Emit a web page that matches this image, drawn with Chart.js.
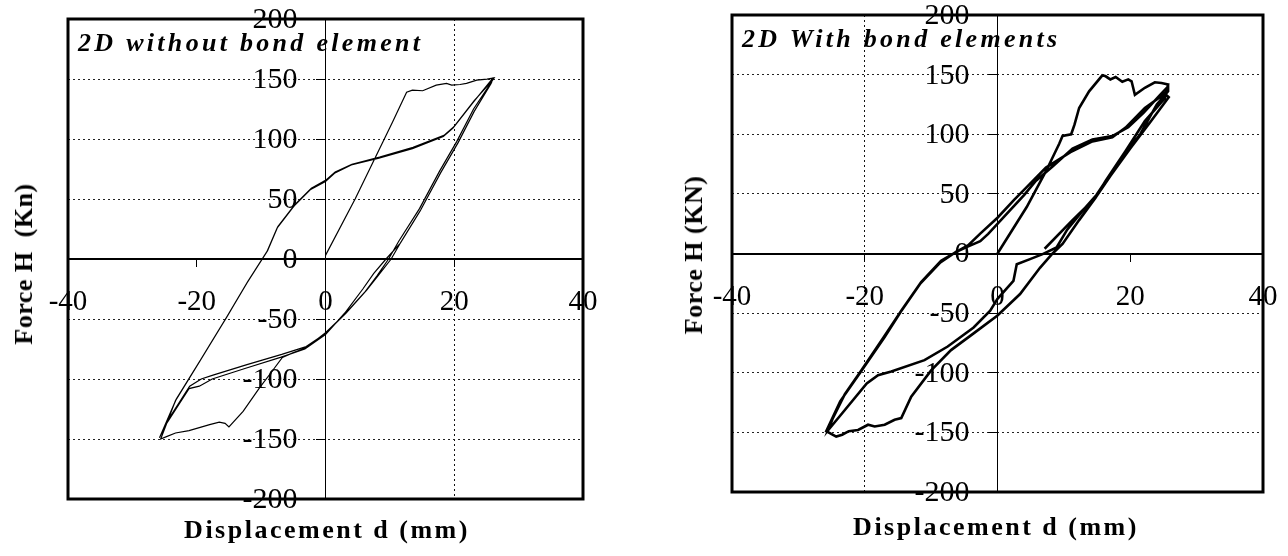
<!DOCTYPE html>
<html>
<head>
<meta charset="utf-8">
<script src="https://cdn.jsdelivr.net/npm/chart.js@4.4.1/dist/chart.umd.min.js"></script>
<style>
  body { margin: 0; background: #fff; }
  #wrap { position: relative; width: 1288px; height: 556px; overflow: hidden; background: #fff; }
  canvas { position: absolute; top: 0; }
  .t { position: absolute; font-family: "Liberation Serif", "Times New Roman", serif; font-weight: bold;
       color: #000; white-space: nowrap; line-height: 1; }
  .ytitle { font-size: 26px; letter-spacing: 0.5px; transform: translate(-50%, -50%) rotate(-90deg); }
  .xtitle { font-size: 26px; letter-spacing: 2.5px; transform: translate(-50%, -50%); }
  .inner { font-size: 26px; font-style: italic; letter-spacing: 3.3px; }
</style>
</head>
<body>
<div id="wrap">
  <canvas id="left" width="644" height="556" style="left:0"></canvas>
  <canvas id="right" width="644" height="556" style="left:644px"></canvas>
  <div class="t inner" style="left:78px; top:30px">2D without bond element</div>
  <div class="t inner" style="left:742px; top:26px">2D With bond elements</div>
  <div class="t ytitle" style="left:24px; top:264px">Force H &nbsp;(Kn)</div>
  <div class="t ytitle" style="left:694px; top:255px">Force H (KN)</div>
  <div class="t xtitle" style="left:327px; top:530px">Displacement d (mm)</div>
  <div class="t xtitle" style="left:996px; top:527px">Displacement d (mm)</div>
</div>
<script>
const dispTicks = [-40, -20, 0, 20, 40];
const forceTicks = [-200, -150, -100, -50, 0, 50, 100, 150, 200];

// 2D without bond element (load history, mm / kN)
const leftDisp = [
  0, 4.6, 10.4, 12.6, 13.5, 15.1, 17.2, 18.8, 19.6, 20.9, 21.9, 23.5, 25.1, 26.2,
  25.6, 23.0, 20.4, 17.7, 14.6, 11.4, 9.8, 8.0, 6.2, 3.0, 0, -3.0, -5.0, -6.7, -8.5, -10.2, -12.8, -15.0, -15.6, -16.5, -18.0, -21.2, -23.3, -24.7, -25.6,
  -23.3, -19.5, -15.4, -12.2, -9.1, -7.5, -4.9, -2.3, 0, 1.4, 4.0, 8.3, 13.5, 18.3, 19.8, 23.0, 25.9,
  25.8, 23.2, 20.6, 17.9, 14.8, 11.7, 10.2, 8.3, 6.4, 3.2, 0, -3.0, -6.8, -12.2, -17.6, -19.3, -21.1, -22.9, -24.7, -25.7,
  -23.2, -19.4, -15.3, -12.1, -9.0, -7.4, -4.8, -2.2, 0, 1.5, 4.1, 8.4, 13.6, 18.4, 19.9, 23.1, 25.8,
  25.7, 23.1, 20.5, 17.8, 14.7, 11.6, 9.4, 7.5, 5.8, 3.0, 0, -3.2, -7.0, -12.4, -17.6, -19.6, -21.2, -23.0, -24.8, -25.8
];
const leftForce = [
  3, 50, 114, 139, 140.7, 140.2, 144.9, 146.3, 144.9, 145.4, 146.3, 149, 149.9, 151,
  146, 125, 98, 73, 42, 15, 0, -14, -27, -46, -61.5, -74, -78, -82, -95, -107, -127, -140, -137, -136, -138, -143, -145, -148, -150,
  -118, -85, -49, -20, 6, 26, 44, 58, 64.5, 71.5, 78.4, 84, 92, 102, 109, 131, 150,
  147, 124, 97, 72, 41, 14, 0, -13, -26, -45, -62, -73, -79.5, -88, -97, -100, -106, -121, -136, -148,
  -117, -84, -48, -19, 7, 27, 45, 59, 65.5, 72.5, 79, 85, 93, 103, 110, 132, 148,
  146, 123, 96, 71, 40, 13, 0, -12, -25, -45, -63, -75, -82, -91, -100, -106, -108, -123, -138, -149
];

// 2D with bond elements
const rightDisp = [
  0, 4.4, 7.3, 9.3, 9.8, 11.1, 11.6, 12.3, 13.8, 15.8, 16.3, 17.0, 17.8, 18.8, 19.7, 20.2, 20.7, 22.2, 23.7, 24.7, 25.7,
  25.2, 22.2, 19.3, 16.3, 14.8, 12.3, 9.8, 8.3, 6.4, 3.4, 0, -3.6, -7.0, -10.0, -13.0, -14.5, -15.5, -17.0, -18.5, -19.5, -21.0, -22.4, -23.4, -24.3, -25.8,
  -23.7, -20.7, -17.0, -14.6, -11.6, -8.6, -6.2, -4.4, -2.6, -1.4, 1.0, 4.0, 5.8, 8.3, 11.3, 14.3, 17.3, 19.7, 22.0, 24.5, 25.7,
  25.7, 24.0, 21.5, 18.5, 14.9, 13.0, 10.5, 8.9, 6.8, 4.9, 2.9, 2.4, 0, -1.1, -3.6, -7.5, -11.0, -16.0, -18.0, -19.7, -23.4, -25.5,
  -24.8, -23.0, -20.5, -17.0, -14.5, -11.5, -8.5, -6.0, -4.4, -2.6, 0, 2.5, 4.4, 7.3, 11.0, 14.3, 17.3, 19.3, 22.2, 25.2,
  25.8, 23.0, 20.0, 17.0, 14.8, 11.3, 7.1
];
const rightForce = [
  0, 39, 69, 92, 98.6, 100, 108, 122, 136, 149.4, 148.6, 146, 148, 144, 146, 144.4, 133, 139, 143.6, 143, 141.7,
  130, 111, 86, 61, 47, 28, 8, 0, -12, -34, -52, -67, -81, -98, -120, -138, -139.4, -143.6, -145, -143.6, -148, -149, -152, -153.5, -149,
  -124, -100, -70, -49, -25, -7.5, 1.5, 6, 10.4, 16.4, 31, 49, 61, 73, 88, 95.5, 98.5, 106, 118, 133, 140,
  136, 125, 100, 79, 49, 37, 20, 5, -0.5, -4.7, -9, -23, -38, -48, -62, -78, -89.4, -99, -102, -109, -134, -148,
  -138, -118, -98, -69, -48, -24, -6, 2, 7, 16.7, 30, 45, 55.6, 72, 85, 94, 97.5, 105.6, 122, 134,
  131, 110, 88, 65, 47, 28, 4
];

const serif = '"Liberation Serif", "Times New Roman", serif';

// thick frame round the plot area
const frame = {
  id: 'frame',
  afterDatasetsDraw(chart) {
    const { ctx, chartArea: a } = chart;
    ctx.save();
    ctx.lineWidth = 3;
    ctx.strokeStyle = '#000';
    ctx.strokeRect(a.left, a.top, a.right - a.left, a.bottom - a.top);
    ctx.restore();
  }
};

// force labels sit ~28px left of the zero axis (a centred y axis would put them flush on it)
const forceLabels = {
  id: 'forceLabels',
  beforeDatasetsDraw(chart) {
    const { ctx, scales: { x, y } } = chart;
    const right = x.getPixelForValue(0) - 28;
    ctx.save();
    ctx.font = '30px ' + serif;
    ctx.fillStyle = '#000';
    ctx.textAlign = 'right';
    ctx.textBaseline = 'middle';
    forceTicks.forEach(v => ctx.fillText(String(v), right, y.getPixelForValue(v) + 1));
    ctx.restore();
  }
};

// axes cross at zero, keep their label overflow from moving the plot area
const noPad = s => { s.paddingLeft = s.paddingRight = s.paddingTop = s.paddingBottom = 0; };

function hysteresis(id, disp, force, lineW, xGridAt, pad) {
  return new Chart(document.getElementById(id), {
    type: 'scatter',
    data: {
      datasets: [{
        data: disp.map((x, i) => ({ x: x, y: force[i] })),
        showLine: true,
        borderColor: '#000',
        borderWidth: lineW,
        pointRadius: 0,
        tension: 0,
        fill: false
      }]
    },
    options: {
      responsive: false,
      animation: false,
      events: [],
      layout: { padding: pad },
      plugins: { legend: { display: false }, tooltip: { enabled: false } },
      scales: {
        x: {
          type: 'linear', min: -40, max: 40, position: { y: 0 },
          afterBuildTicks: s => { s.ticks = dispTicks.map(v => ({ value: v })); },
          afterFit: noPad,
          grid: {
            color: c => (c.tick && c.tick.value === xGridAt) ? '#111' : 'rgba(0,0,0,0)',
            lineWidth: 1, tickColor: '#000', tickLength: 7, tickWidth: 1
          },
          border: { color: '#000', width: 2, dash: [2, 3] },
          ticks: { color: '#000', font: { family: serif, size: 29 }, padding: 19, maxRotation: 0, autoSkip: false }
        },
        y: {
          type: 'linear', min: -200, max: 200, position: { x: 0 },
          afterBuildTicks: s => { s.ticks = forceTicks.map(v => ({ value: v })); },
          afterFit: noPad,
          grid: {
            color: c => {
              const v = c.tick ? c.tick.value : 0;
              return (v === 0 || Math.abs(v) === 200) ? 'rgba(0,0,0,0)' : '#222';
            },
            lineWidth: 1, tickColor: '#000', tickLength: 9, tickWidth: 1
          },
          border: { color: '#000', width: 1, dash: [2, 3] },
          ticks: { display: false }
        }
      }
    },
    plugins: [forceLabels, frame]
  });
}

hysteresis('left', leftDisp, leftForce, 1.2, 20, { left: 68, right: 61, top: 19, bottom: 57 });
hysteresis('right', rightDisp, rightForce, 2.6, -20, { left: 88, right: 25, top: 15, bottom: 64 });
</script>
</body>
</html>
